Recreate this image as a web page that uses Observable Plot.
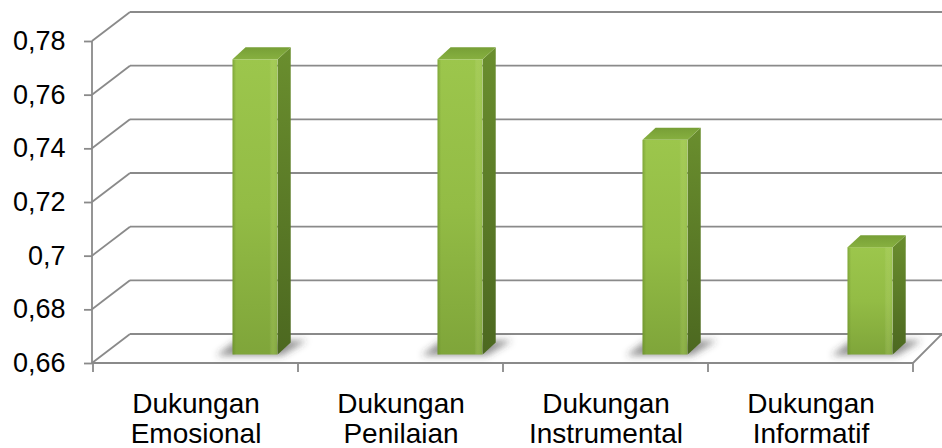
<!DOCTYPE html>
<html><head><meta charset="utf-8">
<script src="https://cdn.jsdelivr.net/npm/d3@7"></script>
<script src="https://cdn.jsdelivr.net/npm/@observablehq/plot@0.6"></script>
<style>body{margin:0;background:#fff} #chart svg{display:block}</style>
</head><body><div id="chart"></div>
<script>
// ---- data ----
const categories = ["Dukungan Emosional", "Dukungan Penilaian", "Dukungan Instrumental", "Dukungan Informatif"];
const values = [0.77, 0.77, 0.74, 0.70];
const yTicks = [0.66, 0.68, 0.70, 0.72, 0.74, 0.76, 0.78];

const data = categories.map((c, i) => ({category: c, value: values[i]}));

// ---- layout / style ----
const W = 942, H = 448;
const ML = 92, MR = 29, MT = 41, MB = 85;
const GRID = "#8a8a8a";
const WALL_DX = 38, WALL_DX_R = 29, WALL_DY = -29;
const BAR_LIFT = -8.5, BAR_DX = 13, BAR_DY = -12;
const BAR_START = 0.68, BAR_END = 0.90;
const bw = (W - ML - MR) / categories.length;

function defs() {
  const d = d3.create("svg:defs");
  const grad = (id, stops, horiz) => {
    const g = d.append("linearGradient").attr("id", id)
      .attr("x1", 0).attr("y1", 0).attr("x2", horiz ? 1 : 0).attr("y2", horiz ? 0 : 1);
    for (const [o, c, op] of stops) g.append("stop").attr("offset", o).attr("stop-color", c).attr("stop-opacity", op ?? 1);
  };
  grad("front", [[0, "#9cc64c"], [0.5, "#93bc45"], [1, "#7fa53a"]]);
  grad("frontEdge", [[0, "#5f8226", 0.45], [0.08, "#5f8226", 0.0], [0.82, "#ffffff", 0.0], [0.9, "#c8e27a", 0.2], [1, "#ffffff", 0.0]], true);
  grad("side", [[0, "#6a8e2e"], [1, "#4c6820"]]);
  grad("top", [[0, "#779f36"], [1, "#87b040"]]);
  const f = d.append("filter").attr("id", "blur").attr("x", "-50%").attr("y", "-50%").attr("width", "200%").attr("height", "200%");
  f.append("feGaussianBlur").attr("stdDeviation", 3.5);
  return d.node();
}

function wall(index, {x, y}, vals, dims) {
  const xl = dims.marginLeft, xr = dims.width - dims.marginRight;
  const y0 = y(yTicks[0]);
  const g = d3.create("svg:g").attr("fill", "none").attr("stroke", GRID).attr("stroke-width", 1.8);
  for (const t of yTicks) {
    const yy = y(t);
    g.append("line").attr("x1", xl + WALL_DX).attr("y1", yy + WALL_DY).attr("x2", xr + WALL_DX_R).attr("y2", yy + WALL_DY);
    g.append("line").attr("x1", xl).attr("y1", yy).attr("x2", xl + WALL_DX).attr("y2", yy + WALL_DY);
  }
  g.append("line").attr("x1", xl).attr("y1", y0).attr("x2", xr).attr("y2", y0);
  g.append("line").attr("x1", xr).attr("y1", y0).attr("x2", xr + WALL_DX_R).attr("y2", y0 + WALL_DY);
  g.append("line").attr("x1", xl).attr("y1", y(yTicks[yTicks.length - 1])).attr("x2", xl).attr("y2", y0);
  const edges = categories.map(c => x(c)).concat([x(categories[categories.length - 1]) + x.bandwidth()]);
  for (const ex of edges) g.append("line").attr("x1", ex).attr("y1", y0).attr("x2", ex).attr("y2", y0 + 9);
  return g.node();
}

function shadows(index, {x, y}) {
  const g = d3.create("svg:g").attr("filter", "url(#blur)").attr("fill", "#3a3a3a").attr("fill-opacity", 0.55);
  const yb = y(yTicks[0]) + BAR_LIFT;
  for (const d of data) {
    const x0 = x(d.category) + BAR_START * bw, x1 = x(d.category) + BAR_END * bw;
    g.append("polygon").attr("points", [
      [x0 - 16, yb + 1], [x1 + 4, yb + 1], [x1 + BAR_DX + 16, yb + BAR_DY - 2], [x0 + 4, yb + BAR_DY - 2]
    ].map(p => p.join(",")).join(" "));
  }
  return g.node();
}

function sideTop(index, {x, y}) {
  const g = d3.create("svg:g");
  const yb = y(yTicks[0]) + BAR_LIFT;
  for (const d of data) {
    const x0 = x(d.category) + BAR_START * bw, x1 = x(d.category) + BAR_END * bw;
    const yt = y(d.value) + BAR_LIFT;
    g.append("polygon").attr("fill", "url(#side)").attr("points", [
      [x1, yt], [x1 + BAR_DX, yt + BAR_DY], [x1 + BAR_DX, yb + BAR_DY], [x1, yb]
    ].map(p => p.join(",")).join(" "));
    g.append("polygon").attr("fill", "url(#top)").attr("points", [
      [x0, yt], [x0 + BAR_DX, yt + BAR_DY], [x1 + BAR_DX, yt + BAR_DY], [x1, yt]
    ].map(p => p.join(",")).join(" "));
  }
  return g.node();
}

const chart = Plot.plot({
  width: W, height: H,
  marginLeft: ML, marginRight: MR, marginTop: MT, marginBottom: MB,
  style: {fontFamily: "'Liberation Sans', Arial, sans-serif", color: "#000", background: "#fff"},
  x: {domain: categories, padding: 0},
  y: {domain: [yTicks[0], yTicks[yTicks.length - 1]]},
  marks: [
    defs,
    wall,
    shadows,
    Plot.barY(data, {x: "category", y1: () => yTicks[0], y2: "value", fill: "url(#front)",
      insetLeft: BAR_START * bw, insetRight: (1 - BAR_END) * bw, dy: BAR_LIFT}),
    Plot.barY(data, {x: "category", y1: () => yTicks[0], y2: "value", fill: "url(#frontEdge)",
      insetLeft: BAR_START * bw, insetRight: (1 - BAR_END) * bw, dy: BAR_LIFT}),
    sideTop,
    Plot.axisY({ticks: yTicks, tickFormat: d => String(d).replace(".", ","), tickSize: 8, tickPadding: 19,
      fontSize: 27, stroke: GRID, strokeWidth: 1.8, fill: "#000", label: null}),
    Plot.axisX({tickSize: 0, tickPadding: 28, fontSize: 28, lineHeight: 1.07, fill: "#000",
      tickFormat: d => d.replace(" ", "\n"), label: null})
  ]
});
document.getElementById("chart").append(chart);
</script>
</body></html>
